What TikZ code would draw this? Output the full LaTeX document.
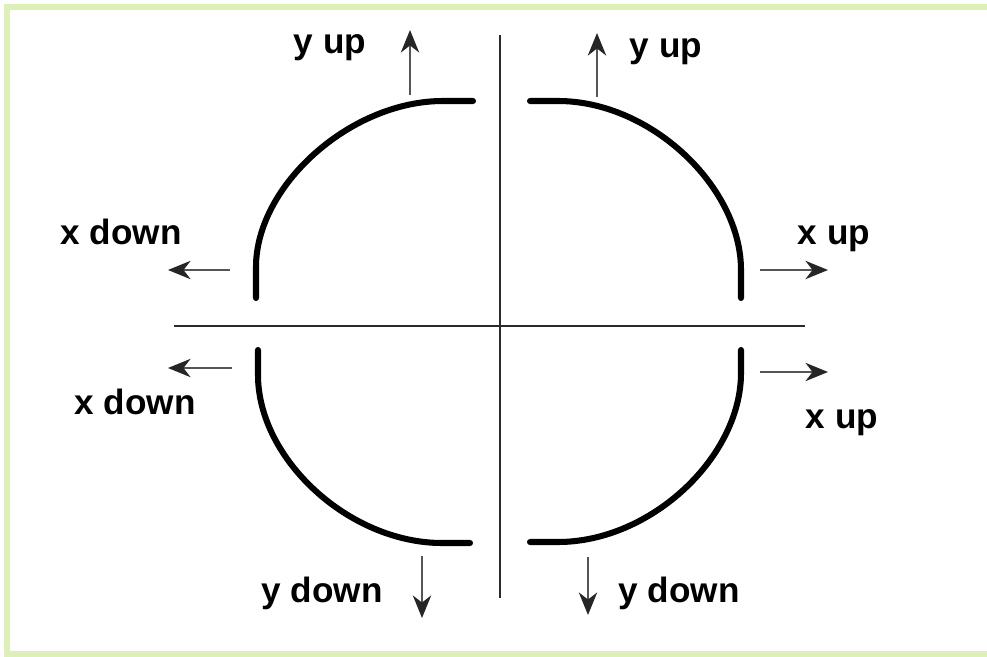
\documentclass[tikz,border=0pt]{standalone}
\usepackage{fontspec}
\setmainfont{Liberation Sans}
\usepackage{xcolor}
\usepackage{tikz}
\usetikzlibrary{arrows.meta,positioning,calc}
\definecolor{FrameGreen}{HTML}{DDF0B8}
\definecolor{AxisGray}{HTML}{2A2A2A}
\definecolor{ArrowGray}{HTML}{555555}

\begin{document}
\begin{tikzpicture}[x=0.025cm, y=-0.025cm, >={Stealth[length=16pt,width=13pt,inset=5pt,color=black!85]},
    lbl/.style={font=\fontsize{25}{30}\selectfont\bfseries, anchor=base, inner sep=0pt},
    quarter/.style={line width=4.3pt, line cap=round, line join=round},
    dir/.style={->, draw=ArrowGray, line width=1.7pt}]
    \useasboundingbox (0,0) rectangle (987,657);
    \clip (0,0) rectangle (987,657);
    \fill[white] (0,0) rectangle (987,657);
    \draw[FrameGreen, line width=0.16cm] (987,654) -- (7,654) -- (7,7) -- (987,7);

    % axes
    \draw[AxisGray, line width=1.5pt] (174,326) -- (805,326);
    \draw[AxisGray, line width=1.5pt] (500,35) -- (500,598);

    % four quarter arcs
    \draw[quarter] (256,298) -- (256,267)
      .. controls (256,186) and (350,101) .. (443,101) -- (473,101);
    \draw[quarter] (530,101) -- (558,101)
      .. controls (651,101) and (741,187) .. (741,270) -- (741,298);
    \draw[quarter] (741,350) -- (741,373)
      .. controls (741,457) and (651,542) .. (558,542) -- (530,542);
    \draw[quarter] (470,543) -- (442,543)
      .. controls (349,543) and (258,459) .. (258,375) -- (258,350);

    % arrow ends
    \coordinate (tlS) at (410,95);  \coordinate (tlE) at (410,30);
    \coordinate (trS) at (597,97);  \coordinate (trE) at (597,33);
    \coordinate (luS) at (230,270); \coordinate (luE) at (168,270);
    \coordinate (llS) at (232,368); \coordinate (llE) at (168,368);
    \coordinate (ruS) at (760,270); \coordinate (ruE) at (828,270);
    \coordinate (rlS) at (760,372); \coordinate (rlE) at (828,372);
    \coordinate (blS) at (422,556); \coordinate (blE) at (422,618);
    \coordinate (brS) at (588,557); \coordinate (brE) at (588,615);

    \draw[dir] (tlS) -- (tlE);
    \draw[dir] (trS) -- (trE);
    \draw[dir] (luS) -- (luE);
    \draw[dir] (llS) -- (llE);
    \draw[dir] (ruS) -- (ruE);
    \draw[dir] (rlS) -- (rlE);
    \draw[dir] (blS) -- (blE);
    \draw[dir] (brS) -- (brE);

    % labels
    \node[lbl] (yupL) at (330,54) {y up};
    \node[lbl] (yupR) at (666,58) {y up};
    \node[lbl] (xdnU) at (121,244) {x down};
    \node[lbl] (xupU) at (834,244) {x up};
    \node[lbl] (xdnL) at (135,414) {x down};
    \node[lbl] (xupL) at (842,428) {x up};
    \node[lbl] (ydnL) at (322,602) {y down};
    \node[lbl] (ydnR) at (679,602) {y down};
  \end{tikzpicture}
\end{document}
